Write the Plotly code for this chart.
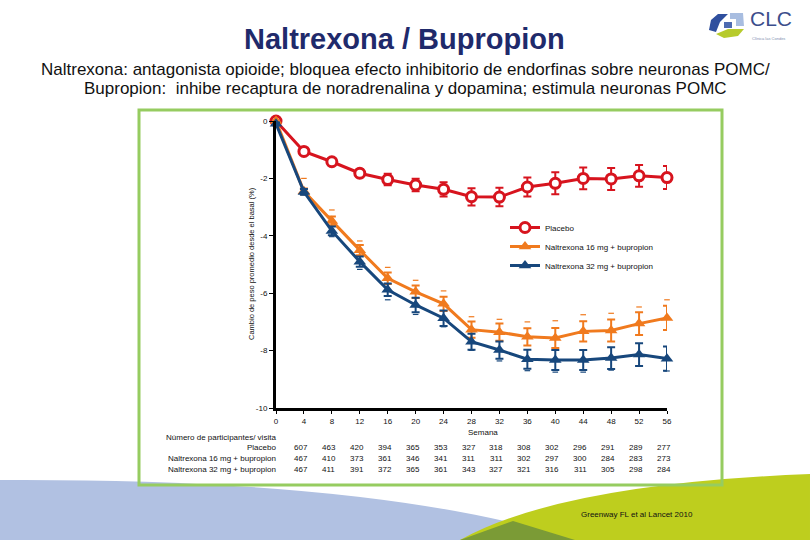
import plotly.graph_objects as go

# ---------------- data ----------------
weeks = [0, 4, 8, 12, 16, 20, 24, 28, 32, 36, 40, 44, 48, 52, 56]
tick_labels_y = ["0", "-2", "-4", "-6", "-8", "-10"]
tick_vals_y = [0, -2, -4, -6, -8, -10]

placebo = [0.0, -1.06, -1.42, -1.82, -2.04, -2.23, -2.38, -2.64, -2.65, -2.30, -2.17, -2.00, -2.02, -1.91, -1.97]
placebo_se = [0.05, 0.08, 0.12, 0.14, 0.20, 0.22, 0.25, 0.30, 0.32, 0.33, 0.38, 0.38, 0.38, 0.38, 0.40]

nb16 = [0.0, -2.45, -3.48, -4.50, -5.48, -5.95, -6.37, -7.27, -7.36, -7.52, -7.56, -7.33, -7.30, -7.06, -6.86]
nb16_se = [0.05, 0.10, 0.15, 0.18, 0.20, 0.22, 0.25, 0.28, 0.30, 0.30, 0.35, 0.35, 0.38, 0.40, 0.42]
nb16_tip = [0.0, 0.45, 0.38, 0.32, 0.38, 0.40, 0.45, 0.45, 0.45, 0.52, 0.60, 0.58, 0.60, 0.58, 0.63]

nb32 = [-0.10, -2.47, -3.83, -4.90, -5.88, -6.41, -6.87, -7.69, -7.98, -8.30, -8.33, -8.33, -8.26, -8.14, -8.28]
nb32_se = [0.05, 0.10, 0.15, 0.18, 0.22, 0.25, 0.27, 0.28, 0.30, 0.33, 0.35, 0.35, 0.38, 0.40, 0.42]
nb32_tip = [0.0, 0.10, 0.20, 0.27, 0.35, 0.33, 0.30, 0.30, 0.38, 0.40, 0.42, 0.42, 0.42, 0.40, 0.43]

table_weeks = [4, 8, 12, 16, 20, 24, 28, 32, 36, 40, 44, 48, 52, 56]
n_placebo = [607, 463, 420, 394, 365, 353, 327, 318, 308, 302, 296, 291, 289, 277]
n_nb16 = [467, 410, 373, 361, 346, 341, 311, 311, 302, 297, 300, 284, 283, 273]
n_nb32 = [467, 411, 391, 372, 365, 361, 343, 327, 321, 316, 311, 305, 298, 284]

series_names = ["Placebo", "Naltrexona 16 mg + bupropion", "Naltrexona 32 mg + bupropion"]

RED = "#D7141E"
ORANGE = "#F07A1E"
BLUE = "#17477C"
FONT = "Liberation Sans, Arial, sans-serif"

# ------------- geometry helpers (pixel -> paper) -------------
L, R, T, B = 276, 143, 121, 132
W, H = 810, 540
PW, PH = W - L - R, H - T - B


def px(x):
    return (x - L) / PW


def py(y):
    return 1 - (y - T) / PH


fig = go.Figure()

# main series
fig.add_trace(go.Scatter(
    x=weeks, y=placebo, name=series_names[0], mode="lines+markers",
    line=dict(color=RED, width=3),
    marker=dict(symbol="circle", size=10, color="white", line=dict(color=RED, width=3)),
    error_y=dict(type="data", array=placebo_se, color=RED, thickness=2, width=4),
    cliponaxis=False,
))
fig.add_trace(go.Scatter(
    x=weeks, y=nb16, name=series_names[1], mode="lines+markers",
    line=dict(color=ORANGE, width=3),
    marker=dict(symbol="triangle-up", size=11, color=ORANGE),
    error_y=dict(type="data", array=nb16_se, color=ORANGE, thickness=2, width=4),
    cliponaxis=False,
))
fig.add_trace(go.Scatter(
    x=weeks, y=nb32, name=series_names[2], mode="lines+markers",
    line=dict(color=BLUE, width=3),
    marker=dict(symbol="triangle-up", size=11, color=BLUE),
    error_y=dict(type="data", array=nb32_se, color=BLUE, thickness=2, width=4),
    cliponaxis=False,
))

# small outer tick marks (orange above, blue below)
fig.add_trace(go.Scatter(
    x=weeks[1:], y=[v + t for v, t in zip(nb16[1:], nb16_tip[1:])], mode="markers",
    marker=dict(symbol="line-ew", size=4, line=dict(color=ORANGE, width=1.2)),
    showlegend=False, hoverinfo="skip", cliponaxis=False,
))
fig.add_trace(go.Scatter(
    x=weeks[1:], y=[v - t for v, t in zip(nb32[1:], nb32_tip[1:])], mode="markers",
    marker=dict(symbol="line-ew", size=4, line=dict(color=BLUE, width=1.2)),
    showlegend=False, hoverinfo="skip", cliponaxis=False,
))

annotations = []

# titles
annotations.append(dict(text="<b>Naltrexona / Bupropion</b>", x=px(404), y=py(39), xref="paper", yref="paper",
                        showarrow=False, font=dict(family=FONT, size=29, color="#1F2A6B"),
                        xanchor="center", yanchor="middle"))
annotations.append(dict(text="Naltrexona: antagonista opioide; bloquea efecto inhibitorio de endorfinas sobre neuronas POMC/",
                        x=px(405), y=py(70), xref="paper", yref="paper", showarrow=False,
                        font=dict(family=FONT, size=17, color="#111111"), xanchor="center", yanchor="middle"))
annotations.append(dict(text="Bupropion:  inhibe recaptura de noradrenalina y dopamina; estimula neuronas POMC",
                        x=px(405), y=py(88), xref="paper", yref="paper", showarrow=False,
                        font=dict(family=FONT, size=17, color="#111111"), xanchor="center", yanchor="middle"))

# y-axis label
annotations.append(dict(text="Cambio de peso promedio desde el basal (%)", x=px(251), y=py(264),
                        xref="paper", yref="paper", showarrow=False, textangle=-90,
                        font=dict(family=FONT, size=7.5, color="#111111"), xanchor="center", yanchor="middle"))
# x-axis label
annotations.append(dict(text="Semana", x=px(483), y=py(432), xref="paper", yref="paper", showarrow=False,
                        font=dict(family=FONT, size=8, color="#111111"), xanchor="center", yanchor="middle"))

# table
row_y = [447, 458, 469]
annotations.append(dict(text="Número de participantes/ visita", x=px(278), y=py(437), xref="paper", yref="paper",
                        showarrow=False, font=dict(family=FONT, size=8, color="#111111"),
                        xanchor="right", yanchor="middle"))
for name, ry in zip(series_names, row_y):
    annotations.append(dict(text=name, x=px(278), y=py(ry), xref="paper", yref="paper", showarrow=False,
                            font=dict(family=FONT, size=8, color="#111111"), xanchor="right", yanchor="middle"))
for vals, ry in zip([n_placebo, n_nb16, n_nb32], row_y):
    for wk, v in zip(table_weeks, vals):
        annotations.append(dict(text=str(v), x=wk, xref="x", y=py(ry), yref="paper", showarrow=False,
                                xshift=-3, font=dict(family=FONT, size=8, color="#111111"),
                                xanchor="center", yanchor="middle"))

# citation
annotations.append(dict(text="Greenway FL et al Lancet 2010", x=px(637), y=py(514), xref="paper", yref="paper",
                        showarrow=False, font=dict(family=FONT, size=8, color="#111111"),
                        xanchor="center", yanchor="middle"))

# logo text
annotations.append(dict(text="CLC", x=px(748), y=py(32), xref="paper", yref="paper", showarrow=False,
                        font=dict(family=FONT, size=21, color="#3C4E8C"), xanchor="left", yanchor="bottom"))
annotations.append(dict(text="Clínica las Condes", x=px(750), y=py(34), xref="paper", yref="paper", showarrow=False,
                        font=dict(family=FONT, size=4, color="#8090B0"), xanchor="left", yanchor="top"))


def path(points, close=True):
    s = "M " + " L ".join(f"{px(x):.4f},{py(y):.4f}" for x, y in points)
    return s + (" Z" if close else "")


def qpath(p0, c, p1, extra):
    s = f"M {px(p0[0]):.4f},{py(p0[1]):.4f} Q {px(c[0]):.4f},{py(c[1]):.4f} {px(p1[0]):.4f},{py(p1[1]):.4f}"
    for x, y in extra:
        s += f" L {px(x):.4f},{py(y):.4f}"
    return s + " Z"


shapes = []
# bottom swooshes
shapes.append(dict(type="path", xref="paper", yref="paper", layer="below", line=dict(width=0),
                   fillcolor="#B1C1E2", path=qpath((0, 480), (380, 478), (575, 540), [(0, 540)])))
shapes.append(dict(type="path", xref="paper", yref="paper", layer="below", line=dict(width=0),
                   fillcolor="#BECE1E", path=qpath((810, 474), (560, 484), (460, 540), [(810, 540)])))
shapes.append(dict(type="path", xref="paper", yref="paper", layer="below", line=dict(width=0),
                   fillcolor="#7B9B36", path=path([(513, 521), (575, 540), (460, 540)])))
# green frame
shapes.append(dict(type="rect", xref="paper", yref="paper", layer="below",
                   x0=px(139), x1=px(722), y0=py(485), y1=py(110),
                   line=dict(color="#96CC60", width=3), fillcolor="rgba(0,0,0,0)"))
# logo icon
shapes.append(dict(type="path", xref="paper", yref="paper", layer="below", line=dict(width=0),
                   fillcolor="#2F4F9E", path=path([(718, 14), (728, 14), (720, 22), (716, 32), (709, 30), (711, 20)])))
shapes.append(dict(type="path", xref="paper", yref="paper", layer="below", line=dict(width=0),
                   fillcolor="#A8BDE0", path=path([(730, 13), (743, 13), (744, 26), (736, 26), (736, 19), (730, 19)])))
shapes.append(dict(type="path", xref="paper", yref="paper", layer="below", line=dict(width=0),
                   fillcolor="#B7CB2C", path=path([(716, 34), (728, 29), (744, 29), (738, 36), (724, 38)])))
shapes.append(dict(type="path", xref="paper", yref="paper", layer="below", line=dict(width=0),
                   fillcolor="#4D6AB0", path=path([(724, 22), (732, 22), (732, 28), (724, 28)])))

fig.update_layout(
    width=W, height=H,
    margin=dict(l=L, r=R, t=T, b=B),
    paper_bgcolor="white", plot_bgcolor="rgba(0,0,0,0)",
    font=dict(family=FONT, size=8, color="#111111"),
    showlegend=True,
    legend=dict(x=px(505), y=py(213), xanchor="left", yanchor="top",
                font=dict(family=FONT, size=8, color="#111111"),
                bgcolor="rgba(0,0,0,0)", itemwidth=30, tracegroupgap=0),
    annotations=annotations,
    shapes=shapes,
    xaxis=dict(range=[0, 56], tickvals=weeks, ticktext=[str(w) for w in weeks],
               showline=True, linecolor="black", linewidth=3, ticks="outside", ticklen=3,
               tickcolor="black", tickwidth=1, showgrid=False, zeroline=False,
               tickfont=dict(family=FONT, size=8, color="#111111")),
    yaxis=dict(range=[-10, 0], tickvals=tick_vals_y, ticktext=tick_labels_y,
               showline=True, linecolor="black", linewidth=3, ticks="outside", ticklen=4,
               tickcolor="black", tickwidth=1, showgrid=False, zeroline=False,
               tickfont=dict(family=FONT, size=8, color="#111111")),
)

fig.write_html("out.html", config={"displayModeBar": False},
               post_script="document.body.style.margin='0px';document.body.style.overflow='hidden';")
